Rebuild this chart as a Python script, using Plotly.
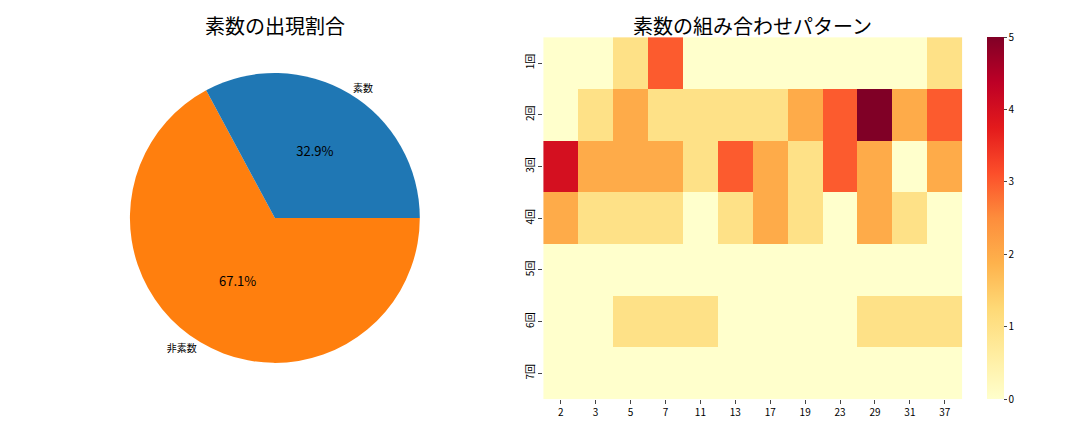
import plotly.graph_objects as go
import plotly.colors as pc

# pie data
pie_labels = ['素数', '非素数']
pie_counts = [23, 47]
pie_colors = ['#1f77b4', '#ff7f0e']

# heatmap data
rounds = ['1回', '2回', '3回', '4回', '5回', '6回', '7回']
primes = ['2', '3', '5', '7', '11', '13', '17', '19', '23', '29', '31', '37']
counts = [
    [0, 0, 1, 3, 0, 0, 0, 0, 0, 0, 0, 1],
    [0, 1, 2, 1, 1, 1, 1, 2, 3, 5, 2, 3],
    [4, 2, 2, 2, 1, 3, 2, 1, 3, 2, 0, 2],
    [2, 1, 1, 1, 0, 1, 2, 1, 0, 2, 1, 0],
    [0, 0, 0, 0, 0, 0, 0, 0, 0, 0, 0, 0],
    [0, 0, 1, 1, 1, 0, 0, 0, 0, 1, 1, 1],
    [0, 0, 0, 0, 0, 0, 0, 0, 0, 0, 0, 0],
]

FONT = 'Noto Sans CJK JP'
pie_dom = dict(x=[0.12, 0.389], y=[0.16, 0.831])

# matplotlib draws counterclockwise from 3 o'clock; plotly clockwise with reversed order gives same picture
fig = go.Figure()
fig.add_trace(go.Pie(
    labels=pie_labels[::-1], values=pie_counts[::-1], domain=pie_dom,
    marker=dict(colors=pie_colors[::-1]),
    sort=False, direction='clockwise', rotation=90,
    texttemplate='%{percent:.1%}',
    textposition='inside', insidetextorientation='horizontal',
    textfont=dict(size=13, color='black', family=FONT),
    showlegend=False, hoverinfo='skip',
))
fig.add_trace(go.Pie(
    labels=pie_labels[::-1], values=pie_counts[::-1], domain=pie_dom,
    marker=dict(colors=['rgba(0,0,0,0)'] * 2),
    sort=False, direction='clockwise', rotation=90,
    texttemplate='%{label}', textposition='outside',
    textfont=dict(size=10, color='black', family=FONT),
    showlegend=False, hoverinfo='skip',
))

fig.add_trace(go.Heatmap(
    z=counts, x=primes, y=rounds,
    colorscale=pc.sequential.YlOrRd, zmin=0, zmax=5,
    colorbar=dict(x=0.914, xanchor='left', y=0.076, yanchor='bottom',
                  len=0.838, lenmode='fraction', thickness=17,
                  xpad=0, ypad=0,
                  outlinewidth=0, ticks='outside', ticklen=3,
                  tickfont=dict(size=10, family=FONT), dtick=1),
))

fig.update_layout(
    width=1080, height=432,
    margin=dict(l=0, r=0, t=0, b=0, autoexpand=False),
    paper_bgcolor='white', plot_bgcolor='white',
    font=dict(family=FONT, color='black'),
    xaxis=dict(domain=[0.503, 0.891], type='category', ticks='outside',
               ticklen=4, tickfont=dict(size=10), showgrid=False,
               zeroline=False, showline=False, automargin=False),
    yaxis=dict(domain=[0.076, 0.914], type='category', autorange='reversed',
               ticks='outside', ticklen=4, tickangle=-90,
               tickfont=dict(size=10), showgrid=False, zeroline=False,
               showline=False, automargin=False),
    annotations=[
        dict(text='素数の出現割合', x=0.255, y=0.942, xref='paper', yref='paper',
             xanchor='center', yanchor='middle', showarrow=False,
             font=dict(size=20, family=FONT)),
        dict(text='素数の組み合わせパターン', x=0.697, y=0.942, xref='paper',
             yref='paper', xanchor='center', yanchor='middle', showarrow=False,
             font=dict(size=20, family=FONT)),
    ],
)

fig.write_html('out.html', config={'displayModeBar': False},
               post_script="document.body.style.margin='0';")
